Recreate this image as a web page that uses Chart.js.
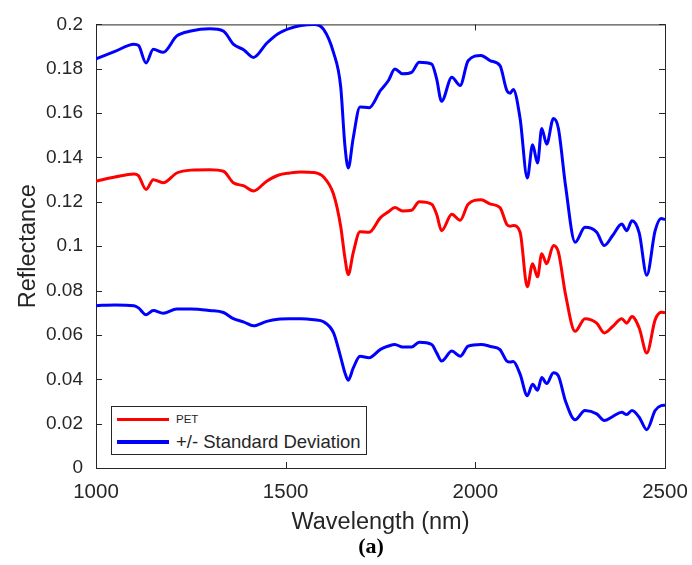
<!DOCTYPE html>
<html>
<head>
<meta charset="utf-8">
<script src="https://cdn.jsdelivr.net/npm/chart.js@4"></script>
<style>
  body { margin: 0; background: #fff; }
  #wrap { position: relative; width: 692px; height: 565px; font-family: "Liberation Sans", Arial, sans-serif; }
  #legend {
    position: absolute; left: 111px; top: 406px; width: 254px; height: 47px;
    border: 1px solid #262626; background: #fff;
  }
  .row { position: absolute; left: 5px; display: flex; align-items: center; }
  .swatch { width: 52px; height: 4px; margin-right: 7px; }
  #caption {
    position: absolute; left: 0; width: 742px; top: 533px; text-align: center;
    font: bold 22px "Liberation Serif", "DejaVu Serif", serif; color: #000;
  }
</style>
</head>
<body>
<div id="wrap">
  <canvas id="chart" width="692" height="565"></canvas>
  <div id="legend">
    <div class="row" style="top: 6px;"><span class="swatch" style="background:#ff0000;height:3px"></span><span style="font-size:11.5px;color:#262626">PET</span></div>
    <div class="row" style="top: 24px;"><span class="swatch" style="background:#0000ff"></span><span style="font-size:18.5px;color:#262626">+/- Standard Deviation</span></div>
  </div>
  <div id="caption">(a)</div>
</div>
<script>
// SECTION: PET reflectance spectrum with +/- standard deviation
const wavelengths = [1000, 1050, 1100, 1112, 1132, 1151, 1177, 1213, 1250, 1300, 1336, 1362, 1390, 1415, 1450, 1480,
  1511, 1540, 1575, 1600, 1626, 1645, 1656, 1665, 1678, 1696, 1720, 1750, 1771, 1788, 1808, 1832, 1852, 1885, 1898,
  1911, 1938, 1960, 1981, 2015, 2040, 2065, 2083, 2092, 2100, 2118, 2137, 2151, 2164, 2175, 2188, 2206, 2219, 2238,
  2263, 2289, 2320, 2340, 2362, 2386, 2399, 2413, 2432, 2452, 2474, 2490, 2500];

const upperSd = [0.1845, 0.1878, 0.1911, 0.1905, 0.1826, 0.1888, 0.1874, 0.1948, 0.197, 0.198, 0.197, 0.1911, 0.1885,
  0.1851, 0.1915, 0.1958, 0.1982, 0.1995, 0.2, 0.1978, 0.1874, 0.172, 0.1457, 0.1353, 0.1487, 0.1628, 0.1624, 0.1702,
  0.1747, 0.1799, 0.1777, 0.1784, 0.1829, 0.1821, 0.1754, 0.1653, 0.1762, 0.1725, 0.1836, 0.186, 0.1836, 0.1814,
  0.1702, 0.169, 0.1707, 0.1576, 0.1308, 0.1457, 0.1375, 0.1531, 0.146, 0.1576, 0.1531, 0.127, 0.1018, 0.1085, 0.1063,
  0.1003, 0.1048, 0.11, 0.107, 0.1115, 0.106, 0.0869, 0.107, 0.1125, 0.112];

const petMean = [0.1293, 0.1312, 0.1326, 0.1318, 0.1256, 0.13, 0.1286, 0.133, 0.1343, 0.1345, 0.1338, 0.1286, 0.1272,
  0.1249, 0.1293, 0.132, 0.133, 0.1335, 0.1332, 0.1312, 0.1235, 0.109, 0.095, 0.0872, 0.097, 0.1065, 0.1063, 0.1129,
  0.1155, 0.1174, 0.1159, 0.1162, 0.12, 0.1189, 0.1144, 0.107, 0.1144, 0.1117, 0.1189, 0.1209, 0.119, 0.1174, 0.1098,
  0.109, 0.1093, 0.1063, 0.0817, 0.0921, 0.0862, 0.0966, 0.0921, 0.1003, 0.0973, 0.078, 0.0616, 0.0673, 0.0653,
  0.0609, 0.0638, 0.0673, 0.0653, 0.0683, 0.0631, 0.0519, 0.0668, 0.0702, 0.07];

const lowerSd = [0.0732, 0.0735, 0.0732, 0.0722, 0.0691, 0.071, 0.0698, 0.0717, 0.0717, 0.071, 0.0701, 0.0673, 0.0658,
  0.0641, 0.0661, 0.0671, 0.0673, 0.0673, 0.0668, 0.0659, 0.061, 0.05, 0.043, 0.0396, 0.045, 0.0504, 0.0497, 0.0535,
  0.055, 0.0557, 0.0545, 0.0545, 0.0567, 0.0557, 0.0519, 0.0482, 0.0527, 0.0504, 0.0549, 0.0557, 0.0548, 0.0534,
  0.0482, 0.0478, 0.048, 0.0423, 0.0326, 0.0378, 0.0351, 0.0408, 0.0381, 0.043, 0.0415, 0.03, 0.0217, 0.0259, 0.0244,
  0.0214, 0.0232, 0.0251, 0.0241, 0.0259, 0.0229, 0.0173, 0.0259, 0.0281, 0.0283];

const xTicks = [1000, 1500, 2000, 2500];
const yTicks = [0, 0.02, 0.04, 0.06, 0.08, 0.1, 0.12, 0.14, 0.16, 0.18, 0.2];
const yTickLabels = ['0', '0.02', '0.04', '0.06', '0.08', '0.1', '0.12', '0.14', '0.16', '0.18', '0.2'];

const AXIS_COLOR = '#262626';
const FAMILY = '"Liberation Sans", Arial, sans-serif';

const toPoints = (values) => wavelengths.map((w, i) => ({ x: w, y: values[i] }));

const line = (label, values, color) => ({
  label,
  data: toPoints(values),
  borderColor: color,
  borderWidth: 3,
  pointRadius: 0,
  cubicInterpolationMode: 'monotone',
  fill: false
});

// MATLAB-style box with inward tick marks on all four sides
const frameTicks = {
  id: 'frameTicks',
  beforeDatasetsDraw(chart) {
    const { ctx, chartArea: { left, right, top, bottom }, scales: { x, y } } = chart;
    const len = 6;
    ctx.save();
    ctx.strokeStyle = AXIS_COLOR;
    ctx.lineWidth = 1;
    ctx.strokeRect(left + 0.5, top + 0.5, right - left, bottom - top);
    ctx.beginPath();
    xTicks.forEach((v) => {
      const px = Math.round(x.getPixelForValue(v)) + 0.5;
      ctx.moveTo(px, bottom); ctx.lineTo(px, bottom - len);
      ctx.moveTo(px, top); ctx.lineTo(px, top + len);
    });
    yTicks.forEach((v) => {
      const py = Math.round(y.getPixelForValue(v)) + 0.5;
      ctx.moveTo(left, py); ctx.lineTo(left + len, py);
      ctx.moveTo(right, py); ctx.lineTo(right - len, py);
    });
    ctx.stroke();
    ctx.restore();
  }
};

new Chart(document.getElementById('chart').getContext('2d'), {
  type: 'line',
  data: {
    datasets: [
      line('+/- Standard Deviation', upperSd, '#0000ff'),
      line('PET', petMean, '#ff0000'),
      line('-Standard Deviation', lowerSd, '#0000ff')
    ]
  },
  options: {
    responsive: false,
    animation: false,
    layout: { padding: { top: 20, right: 27, left: 0, bottom: 0 } },
    plugins: {
      legend: { display: false },
      tooltip: { enabled: false }
    },
    scales: {
      x: {
        type: 'linear',
        min: 1000,
        max: 2500,
        afterBuildTicks: (scale) => { scale.ticks = xTicks.map((value) => ({ value })); },
        afterFit: (scale) => {
          scale.height = 97;
          scale.paddingLeft = 0;
          scale.paddingRight = 0;
        },
        grid: { display: false, drawTicks: false },
        border: { display: false },
        ticks: { color: AXIS_COLOR, font: { family: FAMILY, size: 20.5 }, padding: 12, maxRotation: 0, callback: (v) => String(v) },
        title: { display: true, text: 'Wavelength (nm)', color: AXIS_COLOR, font: { family: FAMILY, size: 23.5 }, padding: { top: 4, bottom: 28 } }
      },
      y: {
        min: 0,
        max: 0.2,
        afterBuildTicks: (scale) => { scale.ticks = yTicks.map((value) => ({ value })); },
        afterFit: (scale) => { scale.width = 96; },
        grid: { display: false, drawTicks: false },
        border: { display: false },
        ticks: { color: AXIS_COLOR, font: { family: FAMILY, size: 19 }, padding: 13, callback: (v, i) => yTickLabels[i] },
        title: { display: true, text: 'Reflectance', color: AXIS_COLOR, font: { family: FAMILY, size: 23.5 }, padding: { bottom: 0, top: 14 } }
      }
    }
  },
  plugins: [frameTicks]
});
</script>
</body>
</html>
